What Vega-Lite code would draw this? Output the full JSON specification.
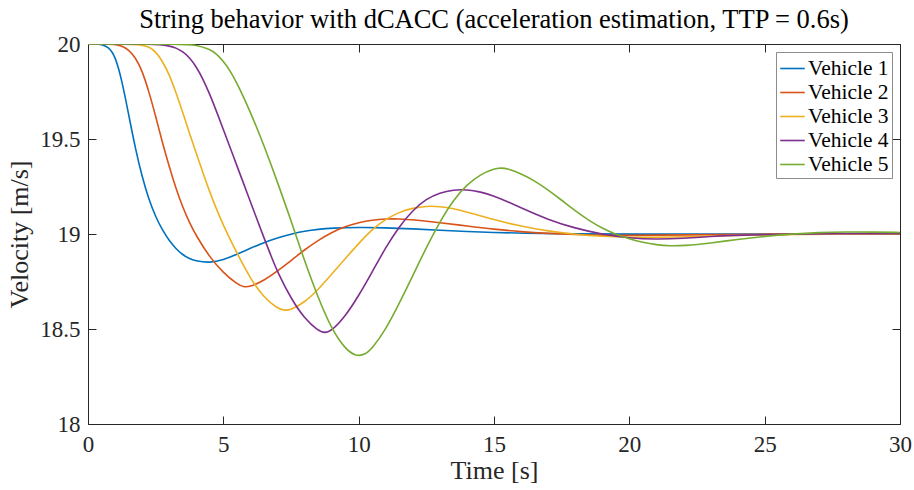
{
  "$schema": "https://vega.github.io/schema/vega-lite/v6.json",
  "width": 812,
  "height": 380,
  "autosize": "none",
  "padding": {"left": 88, "top": 44, "right": 14, "bottom": 66},
  "background": "white",
  "config": {
    "font": "Liberation Serif",
    "view": {"stroke": null},
    "axis": {"grid": false, "domainColor": "#262626", "tickColor": "#262626", "labelColor": "#262626", "titleColor": "#262626", "labelFont": "Liberation Serif", "titleFont": "Liberation Serif", "labelFontSize": 23, "titleFontSize": 26, "titleFontWeight": "normal", "tickSize": -8, "domainWidth": 1, "tickWidth": 1, "labelFlush": false}
  },
  "title": {"text": "String behavior with dCACC (acceleration estimation, TTP = 0.6s)", "font": "Liberation Serif", "fontSize": 26.5, "fontWeight": "normal", "color": "#000000", "offset": 0},
  "data": {"values": [
    {"v":"Vehicle 1","t":0,"y":20},{"v":"Vehicle 1","t":0.25,"y":20},{"v":"Vehicle 1","t":0.5,"y":19.998},{"v":"Vehicle 1","t":0.75,"y":19.985},{"v":"Vehicle 1","t":1.0,"y":19.94},{"v":"Vehicle 1","t":1.25,"y":19.81},{"v":"Vehicle 1","t":1.5,"y":19.63},{"v":"Vehicle 1","t":1.75,"y":19.45},{"v":"Vehicle 1","t":2.0,"y":19.3},{"v":"Vehicle 1","t":2.25,"y":19.18},{"v":"Vehicle 1","t":2.5,"y":19.09},{"v":"Vehicle 1","t":2.75,"y":19.02},{"v":"Vehicle 1","t":3.0,"y":18.965},{"v":"Vehicle 1","t":3.25,"y":18.922},{"v":"Vehicle 1","t":3.5,"y":18.89},{"v":"Vehicle 1","t":3.75,"y":18.87},{"v":"Vehicle 1","t":4.0,"y":18.857},{"v":"Vehicle 1","t":4.5,"y":18.848},{"v":"Vehicle 1","t":5.0,"y":18.864},{"v":"Vehicle 1","t":5.5,"y":18.893},{"v":"Vehicle 1","t":6.0,"y":18.925},{"v":"Vehicle 1","t":6.5,"y":18.955},{"v":"Vehicle 1","t":7.0,"y":18.98},{"v":"Vehicle 1","t":7.5,"y":19.0},{"v":"Vehicle 1","t":8.0,"y":19.015},{"v":"Vehicle 1","t":8.5,"y":19.025},{"v":"Vehicle 1","t":9.0,"y":19.031},{"v":"Vehicle 1","t":10,"y":19.035},{"v":"Vehicle 1","t":11,"y":19.033},{"v":"Vehicle 1","t":12,"y":19.027},{"v":"Vehicle 1","t":13,"y":19.02},{"v":"Vehicle 1","t":14,"y":19.013},{"v":"Vehicle 1","t":15,"y":19.008},{"v":"Vehicle 1","t":16,"y":19.004},{"v":"Vehicle 1","t":18,"y":19.0},{"v":"Vehicle 1","t":20,"y":18.999},{"v":"Vehicle 1","t":25,"y":19.0},{"v":"Vehicle 1","t":30,"y":19.0},

    {"v":"Vehicle 2","t":0,"y":20},{"v":"Vehicle 2","t":0.5,"y":20},{"v":"Vehicle 2","t":1.0,"y":19.998},{"v":"Vehicle 2","t":1.25,"y":19.99},{"v":"Vehicle 2","t":1.5,"y":19.97},{"v":"Vehicle 2","t":1.75,"y":19.93},{"v":"Vehicle 2","t":2.0,"y":19.86},{"v":"Vehicle 2","t":2.25,"y":19.75},{"v":"Vehicle 2","t":2.5,"y":19.62},{"v":"Vehicle 2","t":2.75,"y":19.48},{"v":"Vehicle 2","t":3.0,"y":19.355},{"v":"Vehicle 2","t":3.25,"y":19.24},{"v":"Vehicle 2","t":3.5,"y":19.14},{"v":"Vehicle 2","t":3.75,"y":19.06},{"v":"Vehicle 2","t":4.0,"y":18.99},{"v":"Vehicle 2","t":4.5,"y":18.877},{"v":"Vehicle 2","t":5.0,"y":18.795},{"v":"Vehicle 2","t":5.5,"y":18.737},{"v":"Vehicle 2","t":5.75,"y":18.72},{"v":"Vehicle 2","t":6.0,"y":18.723},{"v":"Vehicle 2","t":6.5,"y":18.755},{"v":"Vehicle 2","t":7.0,"y":18.805},{"v":"Vehicle 2","t":7.5,"y":18.86},{"v":"Vehicle 2","t":8.0,"y":18.917},{"v":"Vehicle 2","t":8.5,"y":18.967},{"v":"Vehicle 2","t":9.0,"y":19.008},{"v":"Vehicle 2","t":9.5,"y":19.04},{"v":"Vehicle 2","t":10,"y":19.06},{"v":"Vehicle 2","t":10.5,"y":19.074},{"v":"Vehicle 2","t":11,"y":19.08},{"v":"Vehicle 2","t":11.5,"y":19.08},{"v":"Vehicle 2","t":12,"y":19.075},{"v":"Vehicle 2","t":13,"y":19.06},{"v":"Vehicle 2","t":14,"y":19.042},{"v":"Vehicle 2","t":15,"y":19.025},{"v":"Vehicle 2","t":16,"y":19.012},{"v":"Vehicle 2","t":17,"y":19.003},{"v":"Vehicle 2","t":18,"y":18.997},{"v":"Vehicle 2","t":19,"y":18.993},{"v":"Vehicle 2","t":20,"y":18.992},{"v":"Vehicle 2","t":22,"y":18.995},{"v":"Vehicle 2","t":25,"y":19.0},{"v":"Vehicle 2","t":30,"y":19.0},

    {"v":"Vehicle 3","t":0,"y":20},{"v":"Vehicle 3","t":1.5,"y":20},{"v":"Vehicle 3","t":2.0,"y":19.995},{"v":"Vehicle 3","t":2.25,"y":19.985},{"v":"Vehicle 3","t":2.5,"y":19.96},{"v":"Vehicle 3","t":2.75,"y":19.91},{"v":"Vehicle 3","t":3.0,"y":19.84},{"v":"Vehicle 3","t":3.25,"y":19.745},{"v":"Vehicle 3","t":3.5,"y":19.64},{"v":"Vehicle 3","t":3.75,"y":19.53},{"v":"Vehicle 3","t":4.0,"y":19.425},{"v":"Vehicle 3","t":4.25,"y":19.32},{"v":"Vehicle 3","t":4.5,"y":19.22},{"v":"Vehicle 3","t":4.75,"y":19.13},{"v":"Vehicle 3","t":5.0,"y":19.045},{"v":"Vehicle 3","t":5.5,"y":18.9},{"v":"Vehicle 3","t":6.0,"y":18.765},{"v":"Vehicle 3","t":6.5,"y":18.665},{"v":"Vehicle 3","t":7.0,"y":18.608},{"v":"Vehicle 3","t":7.25,"y":18.597},{"v":"Vehicle 3","t":7.5,"y":18.601},{"v":"Vehicle 3","t":8.0,"y":18.64},{"v":"Vehicle 3","t":8.5,"y":18.707},{"v":"Vehicle 3","t":9.0,"y":18.788},{"v":"Vehicle 3","t":9.5,"y":18.87},{"v":"Vehicle 3","t":10,"y":18.95},{"v":"Vehicle 3","t":10.5,"y":19.025},{"v":"Vehicle 3","t":11,"y":19.078},{"v":"Vehicle 3","t":11.5,"y":19.115},{"v":"Vehicle 3","t":12,"y":19.137},{"v":"Vehicle 3","t":12.5,"y":19.147},{"v":"Vehicle 3","t":13,"y":19.145},{"v":"Vehicle 3","t":13.5,"y":19.134},{"v":"Vehicle 3","t":14,"y":19.116},{"v":"Vehicle 3","t":15,"y":19.075},{"v":"Vehicle 3","t":16,"y":19.04},{"v":"Vehicle 3","t":17,"y":19.015},{"v":"Vehicle 3","t":18,"y":18.998},{"v":"Vehicle 3","t":19,"y":18.987},{"v":"Vehicle 3","t":20,"y":18.982},{"v":"Vehicle 3","t":21,"y":18.982},{"v":"Vehicle 3","t":22,"y":18.985},{"v":"Vehicle 3","t":24,"y":18.993},{"v":"Vehicle 3","t":26,"y":18.999},{"v":"Vehicle 3","t":30,"y":19.0},

    {"v":"Vehicle 4","t":0,"y":20},{"v":"Vehicle 4","t":2.5,"y":20},{"v":"Vehicle 4","t":3.0,"y":19.99},{"v":"Vehicle 4","t":3.25,"y":19.98},{"v":"Vehicle 4","t":3.5,"y":19.96},{"v":"Vehicle 4","t":3.75,"y":19.93},{"v":"Vehicle 4","t":4.0,"y":19.88},{"v":"Vehicle 4","t":4.25,"y":19.815},{"v":"Vehicle 4","t":4.5,"y":19.735},{"v":"Vehicle 4","t":4.75,"y":19.645},{"v":"Vehicle 4","t":5.0,"y":19.55},{"v":"Vehicle 4","t":5.25,"y":19.455},{"v":"Vehicle 4","t":5.5,"y":19.36},{"v":"Vehicle 4","t":5.75,"y":19.265},{"v":"Vehicle 4","t":6.0,"y":19.17},{"v":"Vehicle 4","t":6.25,"y":19.075},{"v":"Vehicle 4","t":6.5,"y":18.98},{"v":"Vehicle 4","t":6.75,"y":18.89},{"v":"Vehicle 4","t":7.0,"y":18.8},{"v":"Vehicle 4","t":7.5,"y":18.66},{"v":"Vehicle 4","t":8.0,"y":18.555},{"v":"Vehicle 4","t":8.5,"y":18.49},{"v":"Vehicle 4","t":8.75,"y":18.478},{"v":"Vehicle 4","t":9.0,"y":18.49},{"v":"Vehicle 4","t":9.5,"y":18.565},{"v":"Vehicle 4","t":10,"y":18.675},{"v":"Vehicle 4","t":10.5,"y":18.8},{"v":"Vehicle 4","t":11,"y":18.93},{"v":"Vehicle 4","t":11.5,"y":19.04},{"v":"Vehicle 4","t":12,"y":19.125},{"v":"Vehicle 4","t":12.5,"y":19.185},{"v":"Vehicle 4","t":13,"y":19.218},{"v":"Vehicle 4","t":13.5,"y":19.233},{"v":"Vehicle 4","t":14,"y":19.234},{"v":"Vehicle 4","t":14.5,"y":19.222},{"v":"Vehicle 4","t":15,"y":19.2},{"v":"Vehicle 4","t":15.5,"y":19.17},{"v":"Vehicle 4","t":16,"y":19.138},{"v":"Vehicle 4","t":17,"y":19.075},{"v":"Vehicle 4","t":18,"y":19.03},{"v":"Vehicle 4","t":19,"y":18.998},{"v":"Vehicle 4","t":20,"y":18.978},{"v":"Vehicle 4","t":21,"y":18.972},{"v":"Vehicle 4","t":22,"y":18.977},{"v":"Vehicle 4","t":23,"y":18.987},{"v":"Vehicle 4","t":24,"y":18.994},{"v":"Vehicle 4","t":26,"y":19.0},{"v":"Vehicle 4","t":28,"y":19.003},{"v":"Vehicle 4","t":30,"y":19.001},

    {"v":"Vehicle 5","t":0,"y":20},{"v":"Vehicle 5","t":3.5,"y":20},{"v":"Vehicle 5","t":4.0,"y":19.995},{"v":"Vehicle 5","t":4.5,"y":19.972},{"v":"Vehicle 5","t":4.75,"y":19.948},{"v":"Vehicle 5","t":5.0,"y":19.91},{"v":"Vehicle 5","t":5.25,"y":19.86},{"v":"Vehicle 5","t":5.5,"y":19.795},{"v":"Vehicle 5","t":5.75,"y":19.72},{"v":"Vehicle 5","t":6.0,"y":19.64},{"v":"Vehicle 5","t":6.25,"y":19.555},{"v":"Vehicle 5","t":6.5,"y":19.465},{"v":"Vehicle 5","t":6.75,"y":19.37},{"v":"Vehicle 5","t":7.0,"y":19.272},{"v":"Vehicle 5","t":7.25,"y":19.172},{"v":"Vehicle 5","t":7.5,"y":19.07},{"v":"Vehicle 5","t":7.75,"y":18.965},{"v":"Vehicle 5","t":8.0,"y":18.86},{"v":"Vehicle 5","t":8.5,"y":18.665},{"v":"Vehicle 5","t":9.0,"y":18.5},{"v":"Vehicle 5","t":9.5,"y":18.395},{"v":"Vehicle 5","t":9.9,"y":18.355},{"v":"Vehicle 5","t":10.25,"y":18.366},{"v":"Vehicle 5","t":10.5,"y":18.398},{"v":"Vehicle 5","t":11,"y":18.497},{"v":"Vehicle 5","t":11.5,"y":18.635},{"v":"Vehicle 5","t":12,"y":18.78},{"v":"Vehicle 5","t":12.5,"y":18.93},{"v":"Vehicle 5","t":13,"y":19.065},{"v":"Vehicle 5","t":13.5,"y":19.18},{"v":"Vehicle 5","t":14,"y":19.26},{"v":"Vehicle 5","t":14.5,"y":19.314},{"v":"Vehicle 5","t":15,"y":19.343},{"v":"Vehicle 5","t":15.25,"y":19.348},{"v":"Vehicle 5","t":15.5,"y":19.344},{"v":"Vehicle 5","t":16,"y":19.318},{"v":"Vehicle 5","t":16.5,"y":19.28},{"v":"Vehicle 5","t":17,"y":19.232},{"v":"Vehicle 5","t":17.5,"y":19.178},{"v":"Vehicle 5","t":18,"y":19.122},{"v":"Vehicle 5","t":18.5,"y":19.072},{"v":"Vehicle 5","t":19,"y":19.03},{"v":"Vehicle 5","t":19.5,"y":18.998},{"v":"Vehicle 5","t":20,"y":18.974},{"v":"Vehicle 5","t":20.5,"y":18.955},{"v":"Vehicle 5","t":21,"y":18.943},{"v":"Vehicle 5","t":21.5,"y":18.937},{"v":"Vehicle 5","t":22,"y":18.938},{"v":"Vehicle 5","t":23,"y":18.952},{"v":"Vehicle 5","t":24,"y":18.972},{"v":"Vehicle 5","t":25,"y":18.988},{"v":"Vehicle 5","t":26,"y":19.0},{"v":"Vehicle 5","t":27,"y":19.008},{"v":"Vehicle 5","t":28,"y":19.011},{"v":"Vehicle 5","t":29,"y":19.01},{"v":"Vehicle 5","t":30,"y":19.008}
  ]},
  "layer": [
    {
      "mark": {"type": "line", "interpolate": "basis", "strokeWidth": 1.6, "clip": true},
      "encoding": {
        "x": {"field": "t", "type": "quantitative", "scale": {"domain": [0, 30], "nice": false, "zero": false}, "axis": {"title": "Time [s]", "values": [0, 5, 10, 15, 20, 25, 30], "labelPadding": 17, "titlePadding": 1, "orient": "bottom"}},
        "y": {"field": "y", "type": "quantitative", "scale": {"domain": [18, 20], "nice": false, "zero": false}, "axis": {"title": "Velocity [m/s]", "values": [18, 18.5, 19, 19.5, 20], "format": "~g", "labelPadding": 16, "titlePadding": 7, "orient": "left"}},
        "color": {"field": "v", "type": "nominal", "scale": {"domain": ["Vehicle 1", "Vehicle 2", "Vehicle 3", "Vehicle 4", "Vehicle 5"], "range": ["#0072BD", "#D95319", "#EDB120", "#7E2F8E", "#77AC30"]},
          "legend": {"title": null, "orient": "top-right", "offset": 8, "labelFontSize": 21.5, "labelFont": "Liberation Serif", "labelColor": "#000000", "symbolType": "stroke", "symbolSize": 600, "symbolStrokeWidth": 1.6, "strokeColor": "#8c8c8c", "fillColor": "white", "padding": 3, "rowPadding": 0, "labelOffset": 2, "cornerRadius": 0}}
      }
    },
    {
      "mark": {"type": "line", "opacity": 0},
      "encoding": {
        "x": {"field": "t", "type": "quantitative", "scale": {"domain": [0, 30], "nice": false, "zero": false}, "axis": {"title": null, "labels": false, "values": [0, 5, 10, 15, 20, 25, 30], "orient": "top"}},
        "y": {"field": "y", "type": "quantitative", "scale": {"domain": [18, 20], "nice": false, "zero": false}, "axis": {"title": null, "labels": false, "values": [18, 18.5, 19, 19.5, 20], "orient": "right"}},
        "detail": {"field": "v", "type": "nominal"}
      }
    }
  ],
  "resolve": {"axis": {"x": "independent", "y": "independent"}}
}
